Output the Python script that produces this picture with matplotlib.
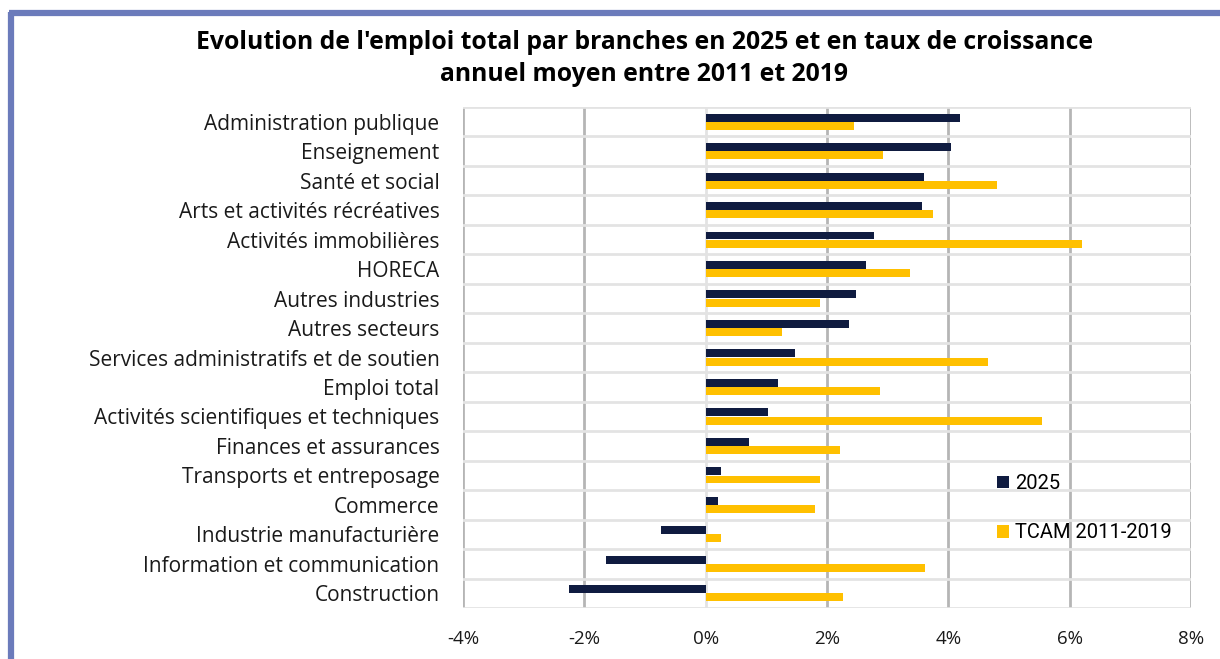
import matplotlib
matplotlib.use("Agg")
import matplotlib.pyplot as plt
from matplotlib.lines import Line2D
import numpy as np

# ---- data ----
branches = [
    "Administration publique", "Enseignement", "Santé et social",
    "Arts et activités récréatives", "Activités immobilières", "HORECA",
    "Autres industries", "Autres secteurs", "Services administratifs et de soutien",
    "Emploi total", "Activités scientifiques et techniques", "Finances et assurances",
    "Transports et entreposage", "Commerce", "Industrie manufacturière",
    "Information et communication", "Construction",
]
emploi_2025 = [4.20, 4.05, 3.60, 3.56, 2.77, 2.64, 2.47, 2.36, 1.47, 1.19,
               1.02, 0.72, 0.26, 0.20, -0.74, -1.65, -2.26]
tcam_2011_2019 = [2.45, 2.93, 4.81, 3.74, 6.21, 3.36, 1.88, 1.25, 4.65, 2.88,
                  5.54, 2.22, 1.88, 1.81, 0.25, 3.62, 2.27]
xticks = [-4, -2, 0, 2, 4, 6, 8]

NAVY = "#0f1b40"
GOLD = "#ffc000"
FRAME = "#6b7bbb"

plt.rcParams["font.family"] = ["Open Sans", "DejaVu Sans"]

fig = plt.figure(figsize=(12.2, 6.59), dpi=100)
ax = fig.add_axes([463 / 1220, 1 - 608 / 659, (1191 - 463) / 1220, (608 - 107) / 659])

y = np.arange(len(branches))
h = 0.27
ax.barh(y - 0.14, emploi_2025, height=h, color=NAVY, label="2025", zorder=3)
ax.barh(y + 0.14, tcam_2011_2019, height=h, color=GOLD, label="TCAM 2011-2019", zorder=3)

ax.set_ylim(len(branches) - 0.5, -0.5)
ax.set_xlim(-4, 8)
ax.set_yticks(y)
ax.set_yticklabels(branches, fontsize=15, color="#1a1a1a")
ax.set_xticks(xticks)
ax.set_xticklabels([f"{v}%" for v in xticks], fontsize=13.5, color="#1a1a1a")
ax.tick_params(axis="both", length=0)
ax.tick_params(axis="y", pad=17)
ax.tick_params(axis="x", pad=16)

# category separators (light) and value grid (darker)
ax.set_yticks(np.arange(-0.5, len(branches), 1), minor=True)
ax.tick_params(axis="y", which="minor", length=0)
ax.grid(axis="y", which="minor", color="#e3e3e3", lw=2, zorder=1)
for v in xticks:
    ax.axvline(v, color="#e3e3e3" if v == 0 else "#b5b5b5", lw=2, zorder=1)
for s in ax.spines.values():
    s.set_visible(False)

# legend, no frame, wide spacing like the original
fig.legend(loc="upper left", bbox_to_anchor=(997 / 1220, 1 - 474 / 659),
           frameon=False, handlelength=0.6, handleheight=0.6, handletextpad=0.3,
           labelspacing=1.5, borderpad=0, borderaxespad=0,
           prop={"family": "Roboto", "size": 14.5})

fig.text(0.528, 0.955,
         "Evolution de l'emploi total par branches en 2025 et en taux de croissance\n"
         "annuel moyen entre 2011 et 2019",
         ha="center", va="top", fontsize=17.8, fontweight="bold", linespacing=1.4)

# blue frame along top and left
fig.add_artist(Line2D([11 / 1220, 11 / 1220], [0, 1 - 12 / 659], transform=fig.transFigure,
                      color=FRAME, lw=4.5, solid_capstyle="butt"))
fig.add_artist(Line2D([9 / 1220, 1], [1 - 12.5 / 659, 1 - 12.5 / 659], transform=fig.transFigure,
                      color=FRAME, lw=4.5, solid_capstyle="butt"))

fig.savefig("out.png", dpi=100)
